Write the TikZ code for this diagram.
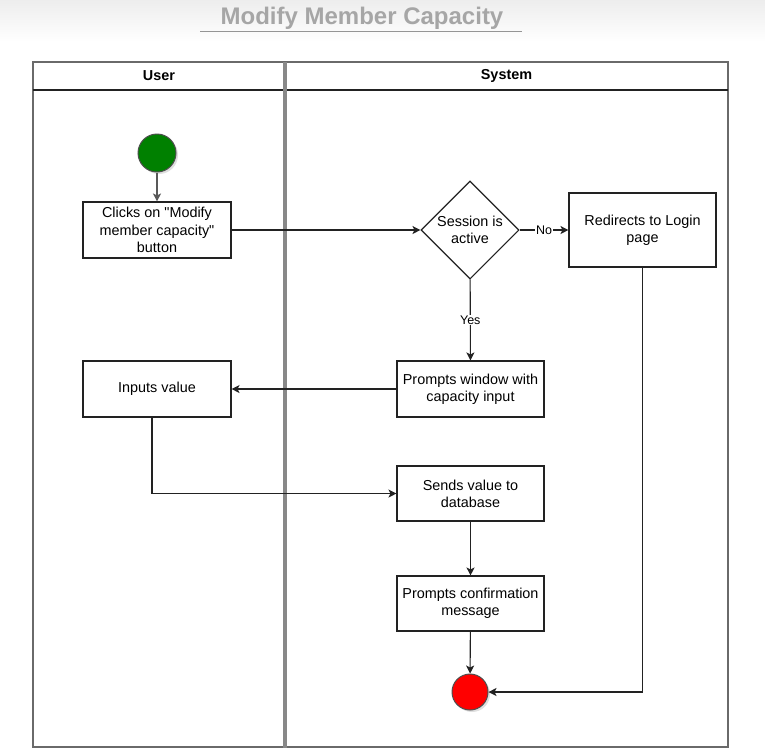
\documentclass[tikz,border=0pt]{standalone}
\usepackage{fontspec}
\setmainfont{Liberation Sans}[Ligatures=TeXOff]
\usetikzlibrary{shapes.geometric,arrows.meta,shadows}
\definecolor{lineC}{HTML}{222222}
\definecolor{laneC}{HTML}{6A6A6A}
\definecolor{titleC}{HTML}{A6A6A6}
\definecolor{startC}{HTML}{008000}
\definecolor{endC}{HTML}{FF0000}
\tikzset{
  actbox/.style={draw=lineC, line width=1.1pt, fill=white, minimum width=147pt, minimum height=56pt, inner sep=0pt, align=center, font=\fontsize{14.4}{17.3}\selectfont},
  decbox/.style={draw=lineC, line width=1.1pt, fill=white, diamond, minimum width=98pt, minimum height=98pt, inner sep=0pt, align=center, font=\fontsize{14.4}{17.3}\selectfont},
  startnode/.style={circle, draw=lineC!80, line width=1pt, fill=startC, minimum size=38pt, inner sep=0pt, drop shadow={shadow xshift=2pt, shadow yshift=-2pt, opacity=0.25}},
  endnode/.style={circle, draw=lineC!80, line width=1pt, fill=endC, minimum size=36pt, inner sep=0pt, drop shadow={shadow xshift=2pt, shadow yshift=-2pt, opacity=0.25}},
  arr/.style={draw=lineC, line width=1.1pt, -{Stealth[length=8pt,width=8pt,inset=2pt]}},
  elabel/.style={fill=white, inner sep=1pt, font=\fontsize{12.5}{14}\selectfont},
  lanehead/.style={font=\fontsize{14.4}{17}\selectfont\bfseries},
}
\begin{document}
\begin{tikzpicture}[x=1pt,y=-1pt]
\useasboundingbox (0,0) rectangle (765,748);
\fill[white] (0,0) rectangle (765,748);
\shade[top color=black!7, bottom color=white] (0,0) rectangle (765,42);
% title
\node[anchor=base, text=titleC, font=\fontsize{24}{28}\selectfont\bfseries] (title) at (362,24) {Modify Member Capacity};
\draw[titleC!90!black, line width=1.6pt] (200,31.5) -- (522,31.5);
% swimlanes
\draw[laneC, line width=1.5pt] (33,62) rectangle (728,747);
\draw[lineC, line width=1.3pt] (33,90) -- (728,90);
\draw[laneC!80, line width=4.5pt] (285,62) -- (285,748);
\node[lanehead] (userh) at (159,76) {User};
\node[lanehead] (sysh) at (506.5,76) {System};
% nodes
\node[startnode] (start) at (157,153) {};
\node[actbox, minimum width=148pt] (clicks) at (157,230) {Clicks on "Modify\\member capacity"\\button};
\node[decbox] (dec) at (470,230) {Session is\\active};
\node[actbox, minimum height=74pt] (redir) at (642.5,230) {Redirects to Login\\page};
\node[actbox] (pw) at (470.5,389) {Prompts window with\\capacity input};
\node[actbox, minimum width=148pt] (inp) at (157,389) {Inputs value};
\node[actbox, minimum height=55pt] (send) at (470.5,493.5) {Sends value to\\database};
\node[actbox, minimum height=55pt] (conf) at (470.5,603.5) {Prompts confirmation\\message};
\node[endnode] (end) at (470,692) {};
% connectors
\draw[arr, draw=lineC!75] (start) -- (clicks);
\draw[arr] (clicks) -- (dec);
\draw[arr] (dec) -- node[elabel] {No} (redir);
\draw[arr] (dec) -- node[elabel] {Yes} (pw);
\draw[arr] (pw) -- (inp);
\draw[arr] ([xshift=-5pt]inp.south) |- (send.west);
\draw[arr] (send) -- (conf);
\draw[arr] (conf) -- (end);
\draw[arr] (redir.south) |- (end.east);
\end{tikzpicture}
\end{document}
